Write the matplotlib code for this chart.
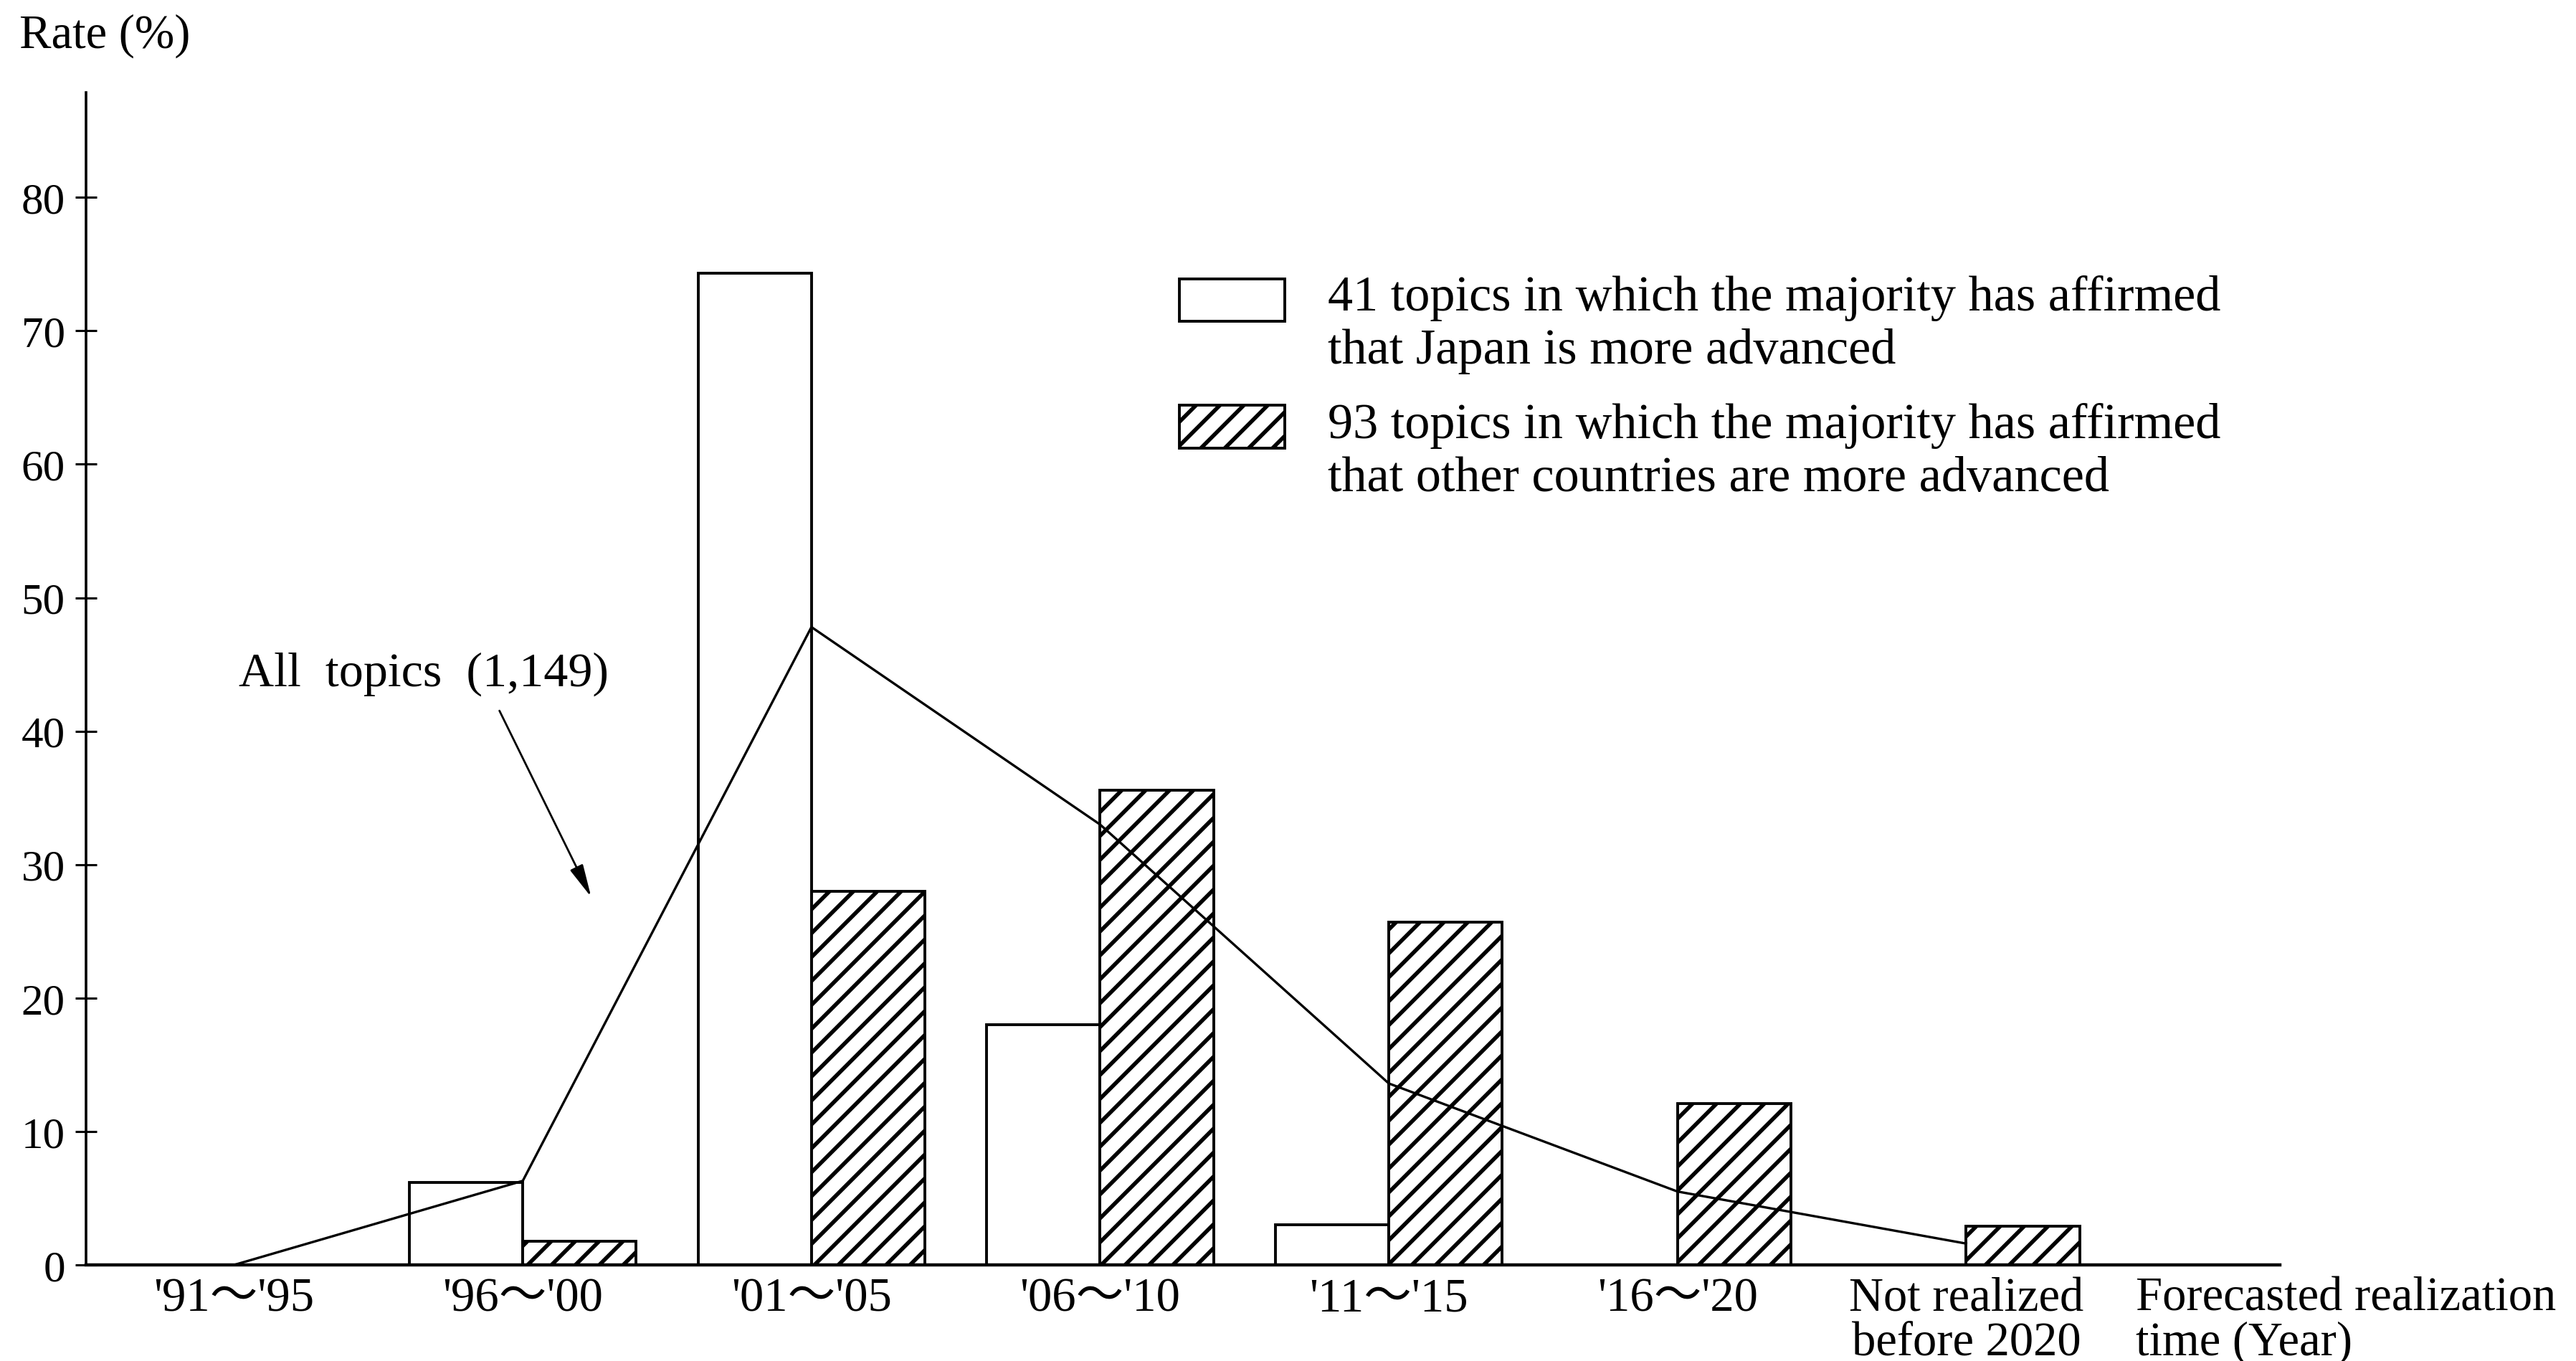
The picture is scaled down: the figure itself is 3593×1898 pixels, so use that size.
import numpy as np
import matplotlib.pyplot as plt
from matplotlib.patches import Rectangle

plt.rcParams['font.family'] = ['Liberation Serif', 'Noto Sans CJK JP']
plt.rcParams['hatch.linewidth'] = 2.0

# Data (rate, %)
periods = ["'91〜'95", "'96〜'00", "'01〜'05", "'06〜'10", "'11〜'15", "'16〜'20",
           "Not realized\nbefore 2020"]
japan_ahead = [0, 6.2, 74.3, 18.0, 3.0, 0, 0]        # 41 topics, Japan more advanced
others_ahead = [0, 1.8, 28.0, 35.6, 25.7, 12.1, 2.9]  # 93 topics, other countries more advanced
all_topics = [0, 6.3, 47.8, 33.0, 13.6, 5.5, 1.6]     # all 1,149 topics

W, H, DPI = 3593, 1899, 200
fig = plt.figure(figsize=(W / DPI, H / DPI), dpi=DPI)
ax = fig.add_axes([120 / W, 1 - 1765 / H, 3060 / W, 1635 / H])

x = np.arange(len(periods))
bw = 0.393
ax.bar(x - bw, japan_ahead, bw, align='edge', facecolor='white',
       edgecolor='black', linewidth=1.4, zorder=2)
ax.bar(x, others_ahead, bw, align='edge', facecolor='white',
       edgecolor='black', hatch='//', linewidth=1.4, zorder=2)
ax.plot(x, all_topics, color='black', lw=1.2, zorder=3)

ax.set_xlim(-0.513, 7.087)
ax.set_ylim(0, 87.86)
for s in ['top', 'right']:
    ax.spines[s].set_visible(False)
ax.spines['left'].set_linewidth(1.3)
ax.spines['bottom'].set_linewidth(1.6)

ax.set_yticks(range(0, 81, 10))
ax.tick_params(axis='y', direction='inout', length=11, width=1.1, labelsize=22, pad=5)
ax.set_xticks(x, periods)
ax.tick_params(axis='x', length=0, labelsize=24, pad=6)
for t in ax.get_xticklabels():
    t.set_linespacing(1.0)

# annotation for the line
ax.text(0.657, 44.3, 'All  topics  (1,149)', fontsize=24.5, ha='center', va='center')
ax.annotate('', xy=(1.243, 27.3), xytext=(0.913, 41.8),
            arrowprops=dict(arrowstyle='-|>,head_length=0.7,head_width=0.15',
                            color='black', lw=1.0, mutation_scale=20))

# legend drawn by hand
fig.add_artist(Rectangle((1645 / W, 1 - 449 / H), 147 / W, 59 / H, transform=fig.transFigure,
                         facecolor='white', edgecolor='black', lw=1.4))
fig.add_artist(Rectangle((1645 / W, 1 - 626 / H), 147 / W, 60 / H, transform=fig.transFigure,
                         facecolor='white', edgecolor='black', hatch='//', lw=1.4))
fig.text(1852 / W, 1 - 453 / H,
         '41 topics in which the majority has affirmed\nthat Japan is more advanced',
         fontsize=25.3, va='center', ha='left', linespacing=1.2)
fig.text(1852 / W, 1 - 631 / H,
         '93 topics in which the majority has affirmed\nthat other countries are more advanced',
         fontsize=25.3, va='center', ha='left', linespacing=1.2)

fig.text(27 / W, 1 - 50 / H, 'Rate (%)', fontsize=24, va='center', ha='left')
fig.text(2979 / W, 1 - 1781 / H, 'Forecasted realization\ntime (Year)', fontsize=24,
         va='top', ha='left', linespacing=1.0)

fig.savefig('out.png', dpi=DPI, facecolor='white')
